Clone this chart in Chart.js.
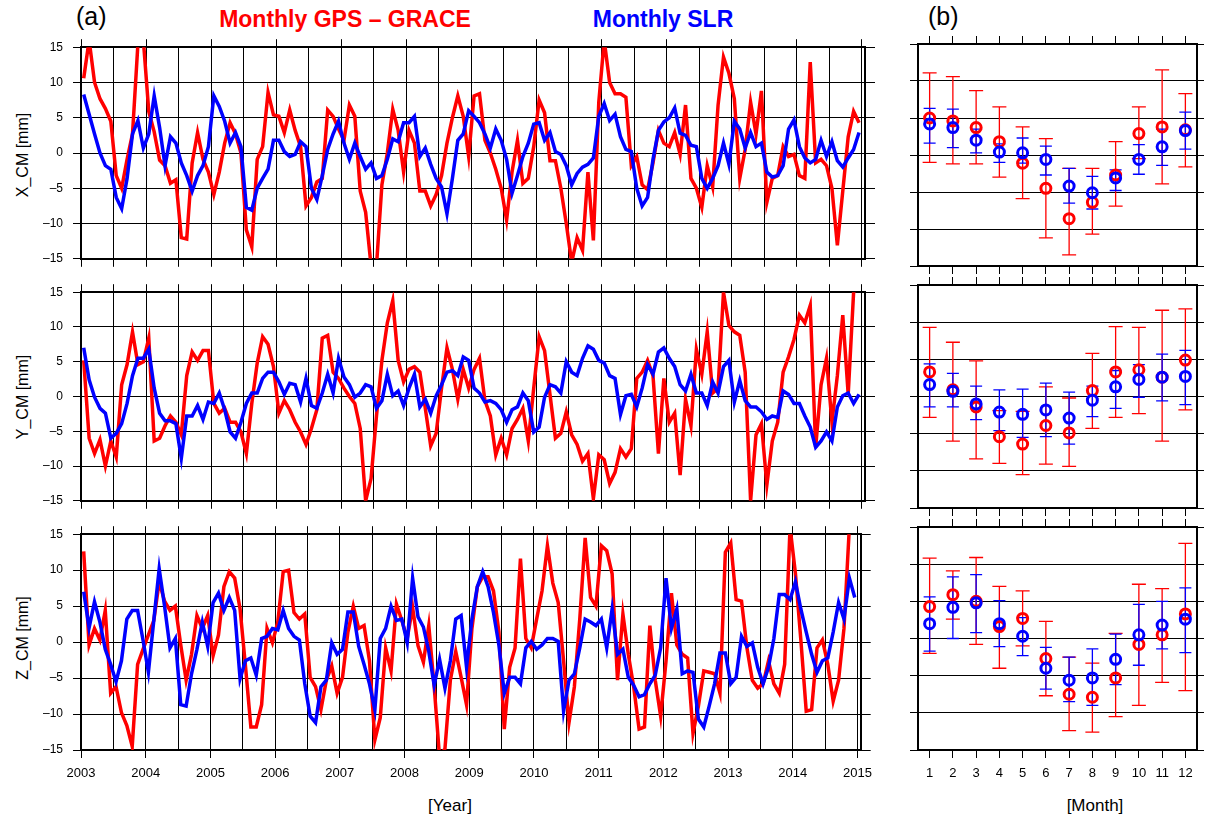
<!DOCTYPE html>
<html>
<head>
<meta charset="utf-8">
<script src="https://cdn.jsdelivr.net/npm/chart.js@4.4.1/dist/chart.umd.min.js"></script>
<style>
  body { margin: 0; background: #fff; width: 1205px; height: 825px; position: relative; overflow: hidden;
         font-family: "Liberation Sans", Arial, sans-serif; }
  canvas { position: absolute; }
  .lbl { position: absolute; white-space: nowrap; color: #000; }
  .head { font-family: "Liberation Sans Narrow", "Liberation Sans", Arial, sans-serif; font-weight: bold; font-size: 23px; }
  .ytitle { font-size: 16px; transform: translate(-50%, -50%) rotate(-90deg); }
</style>
</head>
<body>
<div class="lbl" style="left:76px; top:2px; font-size:25px;">(a)</div>
<div class="lbl head" style="left:345px; top:6px; transform:translateX(-50%); color:#ff0000;">Monthly GPS – GRACE</div>
<div class="lbl head" style="left:663px; top:6px; transform:translateX(-50%); color:#0000ff;">Monthly SLR</div>
<div class="lbl" style="left:928px; top:2px; font-size:25px;">(b)</div>

<div class="lbl ytitle" style="left:23px; top:155px;">X_CM [mm]</div>
<div class="lbl ytitle" style="left:23px; top:397px;">Y_CM [mm]</div>
<div class="lbl ytitle" style="left:23px; top:638px;">Z_CM [mm]</div>
<div class="lbl" style="left:450px; top:796px; font-size:17px; transform:translateX(-50%);">[Year]</div>
<div class="lbl" style="left:1095px; top:796px; font-size:17px; transform:translateX(-50%);">[Month]</div>

<canvas id="xcmSeries"></canvas>
<canvas id="ycmSeries"></canvas>
<canvas id="zcmSeries"></canvas>
<canvas id="xcmMonthly"></canvas>
<canvas id="ycmMonthly"></canvas>
<canvas id="zcmMonthly"></canvas>

<script>
// tick labels / categories
const years = [2003, 2004, 2005, 2006, 2007, 2008, 2009, 2010, 2011, 2012, 2013, 2014, 2015];
const monthLabels = [1, 2, 3, 4, 5, 6, 7, 8, 9, 10, 11, 12];
const startYear = 2003;

// monthly series, Jan 2003 .. Dec 2014 [mm]
const xcmGps = [10.6, 16, 10, 7.7, 6.3, 4.5, -3.2, -5, -0.9, 2.7,
  15.5, 16, 5.9, 3, -1, -1.8, -4.3, -3.8, -12, -12.2,
  -1.4, 2.9, -0.9, -2.7, -5.9, -2.7, 1.4, 4.3, 2.7, 0,
  -10.9, -13.3, -0.9, 0.9, 8.6, 5.4, 5.2, 2.9, 6.1, 3.2,
  0.9, -7.5, -6.3, -4.1, -3.6, 6.1, 5.2, 3.4, 1.8, 6.8,
  5.2, -5.4, -8.4, -16, -16, -4.5, 0, 6.2, 3.2, -2.7,
  3.2, 1.4, -5.4, -5.4, -7.5, -5.9, -3.2, 1.4, 5, 8.1,
  5.2, -0.5, 8.1, 8.4, 1.8, 0, -2.3, -5, -9.5, -2.7,
  1.8, -4.3, -3.6, 0.9, 7.5, 5.7, -1.1, -1.1, -5, -10,
  -15.5, -12, -13.8, -2.7, -12.4, 7.2, 16, 10, 8.4, 8.4,
  7.9, -1.8, -0.5, -4.5, -5.2, -1.4, 3.2, 1.4, 0.9, 2.9,
  -0.2, 6.8, -3.6, -5, -7.7, -1.8, -4.8, 6.8, 13.6, 11.3,
  7.7, -3.6, 0.5, 7.2, 2.7, 8.8, -7, -3.6, -3.2, 0.9,
  -0.5, -0.2, -3.2, -3.6, 12.9, -1.4, -0.9, -1.8, -5, -13.1,
  -5.4, 2.3, 5.9, 4.3];
const xcmSlr = [8.3, 5.5, 2.7, 0, -1.8, -2.3, -6.3, -7.9, -3.6, 2.7,
  4.6, 0.7, 2.7, 8.1, 3.6, -1.8, 2.3, 1.4, -1.4, -3.2,
  -5.4, -3.2, -1.8, 0.9, 8.1, 6.6, 4.5, 1.4, 2.9, 0.9,
  -7.7, -8.1, -5, -3.6, -2.3, 1.8, 1.8, 0.2, -0.5, -0.2,
  1.6, 0.9, -5, -6.6, -3.2, 0.5, 2.7, 4.5, 1.4, -0.9,
  1.4, -0.5, -2.3, -1.4, -3.6, -3.2, -0.9, 2, 1.6, 4.3,
  4.3, 5.2, -0.5, 0.7, -1.6, -3.6, -4.8, -8.6, -3.6, 1.8,
  2.7, 6, 5.2, 4.3, 2.7, 0.7, 3.4, 1.8, -0.9, -5.7,
  -3.2, -0.5, 1.4, 4.1, 4.3, 1.8, 2.9, 0.2, -0.2, -1.8,
  -4.5, -2.9, -2, -1.6, -0.7, 5.2, 7, 4.6, 5.5, 2.3,
  0.5, 0.2, -5, -7.5, -6.3, -0.9, 3.2, 4.4, 5, 6.4,
  2.8, 2.5, 1.1, 0.9, -3.6, -5, -3.6, -1.8, 1.4, -1.6,
  4.5, 3.4, 0.7, 2.9, 0.9, 1.4, -2.7, -3.4, -3.2, -1.8,
  3.4, 4.7, 0.9, -0.7, -1.4, -0.9, 1.8, -0.5, 1.6, -1.1,
  -2, -0.7, 0.5, 2.9];
const ycmGps = [5.2, -6, -8.2, -6.2, -10, -6.4, -8.7, 1.7, 4.6, 9.3,
  4.6, 5, 8.4, -6.4, -6, -4.2, -2.8, -3.7, -5.5, 3,
  6.4, 5.2, 6.6, 6.6, -1, -2.4, -1.7, -3.7, -3.7, -5.1,
  -8.2, -1, 4.8, 8.6, 7.5, 4.3, -2.4, -0.6, -1.9, -3.7,
  -5.1, -6.9, -4.6, -1.9, 8.4, 8.8, 3.5, 2.6, 1.2, 0,
  -1, -4.6, -15, -11.8, -2.8, 5.2, 10.6, 13.8, 5.2, 2.1,
  3.9, 4.3, 3.5, -1.7, -7.1, -5.3, 1.2, 7, 3.9, -0.4,
  3.9, 1.2, 3.9, 5.5, -0.6, -2.8, -8.4, -6, -8.4, -4.6,
  -3.3, -1.7, -6.4, 1.2, 8.6, 6.6, 0.3, -6, -5.3, -2.2,
  -5.5, -6.9, -9.3, -8.2, -14.7, -8.4, -9.1, -12.5, -10.9, -7.5,
  -8.7, -7.5, 2.6, 3.5, 5.2, 3, -8.2, 2.6, -3.7, -2.4,
  -11.3, -0.4, -4.2, 6.8, 3.2, 9.3, 0.5, 1.2, 15, 10.2,
  9.3, 8.8, 3.5, -15, -5.5, -3.9, -12.7, -6.4, -3.7, 3.5,
  5.7, 8.2, 11.7, 10.6, 13.1, -7.3, 1.7, 5.5, -3.7, 3,
  11.7, 0.3, 15, 16];
const ycmSlr = [7, 2.4, -0.1, -1.7, -2.4, -6, -5.3, -3.9, -1, 3,
  5.5, 5.5, 6.8, 1.2, -2.4, -3.5, -3.5, -3.9, -8.9, -2.8,
  -2.8, -1.3, -3.3, -0.8, -1, 0.5, -1.9, -5.1, -6, -3.7,
  -1, 0.5, 0.5, 2.6, 3.5, 3.5, 2.1, 0.3, 1.9, 1.7,
  -0.8, 2.6, -1.3, -1.7, 0.5, 3.2, 0.5, 5.5, 2.8, 1.7,
  -0.1, 0.5, 1.7, 1.4, -1.7, -0.6, 3.2, 0.1, 0.8, -1.3,
  1.2, 3.2, -1.5, -0.4, -2.4, 0.1, 1.7, 3.5, 3.7, 3,
  5.7, 5.2, 1.2, 0.5, -0.8, -0.6, -1, -1.9, -3.7, -1.9,
  -1.5, 0.5, -0.6, -5.1, -4.4, -0.1, 1.7, 1.4, 0.5, 5,
  3.5, 3, 5.5, 7.3, 6.8, 5.2, 4.8, 3, 2.6, -2.6,
  0.1, 0.3, -1.5, 1.2, 4.6, 3.2, 6.4, 7, 5.5, 4.3,
  1.7, 0.8, 3.2, 0.5, 0.5, -1.3, 2.1, 0.5, 4.3, 5.2,
  -0.8, 2.3, -0.6, -1.5, -1.5, -2.2, -3.3, -2.8, -3, 0.8,
  0.3, -1, -1, -2.8, -4.4, -7.3, -6.4, -5.1, -6.4, -1.5,
  0.1, 0.5, -1, 0.3];
const zcmGps = [12.6, -0.4, 1.9, 0.3, 4.4, -7.1, -6.2, -9.8, -11.6, -14.5,
  -3.1, -1, 1, 3, 8.4, 5.7, 4.4, 5, -0.4, -5.3,
  -1.7, 3.7, 1.9, 3.7, -1.9, 1, 7.7, 9.8, 8.9, 4.6,
  -3.3, -11.8, -11.8, -8.7, 1.9, -0.1, 2.8, 9.8, 10, 4.1,
  3.2, 3.9, -4.9, -6.2, -9.4, -5.3, -3.3, -7.1, -4.9, 1.4,
  5, 1.9, 2.3, -2.6, -13.6, -10.5, -0.8, -4, 5.3, 3,
  0.5, 4.8, -0.5, -2.8, 2.3, -6.2, -16, -14.8, -5.3, -1.3,
  -4.9, -8.7, 1.9, 7.7, 9.1, 9.1, 7.1, 1.4, -12.1, -3.5,
  -0.8, 11.6, 0.5, -0.8, 3.2, 7.1, 13.4, 8.2, 5.5, -2.6,
  -11.2, -6.2, 3.2, 14.5, 6.2, 5, 13.4, 12.7, 9.5, -5.3,
  3.9, -1.7, -6.2, -12.1, -11.8, 2.3, -5.3, -10.3, -2.6, 6.8,
  -0.4, -1.7, -2.2, -12.7, -8.9, -4, -4.2, -4.4, -7.1, 12.5,
  13.8, 5.9, 5.7, -0.8, -5.3, -6.4, -5.8, -2.6, -5.8, -7.1,
  -3.1, 16, 9.5, 0.3, -9.6, -9.4, -0.8, 0.3, -3.1, -8.2,
  -5.3, 1.9, 16, 18];
const zcmSlr = [7, 2, 5.6, 2.8, -1, -3.1, -5.5, -2.6, 3.2, 4.4,
  4.4, 0.3, -4.2, 3, 10.2, 5, -0.8, 0.5, -8.7, -8.9,
  -4.4, -1, 2.8, -0.6, 5.5, 6.8, 4.4, 6.2, 4.4, -5.1,
  -2.6, -2.2, -4.6, 0.5, 0.8, 1.9, 1.7, 4.4, 1.9, 0.8,
  0.3, -5.8, -10.3, -11.2, -6.2, -5.3, -0.1, -1.7, -1, 4.2,
  4.2, -0.6, -3.1, -5.8, -9.4, 0.5, 1.9, 5, 3, 3.2,
  -0.1, 8.9, 3.5, 2.1, -1.3, -6, -2.4, -6.4, -2.6, 3.2,
  3.7, -3.5, 3.2, 7.7, 9.8, 7.7, 4.1, -0.4, -7.1, -4.9,
  -4.9, -5.8, -0.8, 0.1, -1, -0.4, 0.5, 0.5, 0.1, -9.6,
  -5.3, -4.4, -0.8, 3.2, 2.8, 2.3, 3.2, -0.8, 4.6, -1.7,
  -1, -4.9, -6, -7.6, -7.3, -5.8, -4.6, -0.8, 8.9, 1.9,
  4.6, -4.4, -4, -4.2, -10.7, -11.8, -8.9, -5.8, -1.5, -1.5,
  -5.8, -4.9, 0.8, -0.6, -0.1, -3.5, -5.8, -3.5, 0.5, 6.6,
  6.6, 5.9, 8.4, 4.6, 1.4, -1.7, -4.2, -2.6, -2.2, 1.4,
  5.5, 3.2, 8.9, 6.2];

// monthly means with error bar ends [mm]
const xcmGpsMean = [5.0, 4.6, 3.7, 1.8, -1.1, -4.5, -8.6, -6.4, -2.7, 2.9, 3.8, 3.4];
const xcmGpsHigh = [11.1, 10.6, 8.7, 6.5, 3.8, 2.2, -1.8, -1.8, 1.8, 6.5, 11.5, 8.3];
const xcmGpsLow = [-1.0, -1.2, -1.2, -3.0, -5.9, -11.2, -13.5, -10.7, -6.9, -0.5, -3.9, -1.6];
const xcmSlrMean = [4.2, 3.7, 2.0, 0.4, 0.3, -0.6, -4.2, -5.1, -3.1, -0.6, 1.1, 3.3];
const xcmSlrHigh = [6.3, 6.2, 3.5, 1.5, 2.3, 1.2, -1.8, -2.9, -2.0, 1.4, 3.5, 5.8];
const xcmSlrLow = [1.6, 1.0, 0.3, -1.0, -1.1, -2.7, -6.5, -7.3, -4.8, -2.6, -1.4, 0.8];

const ycmGpsMean = [3.3, 0.9, -1.4, -5.4, -6.4, -3.9, -4.9, 0.8, 3.3, 3.6, 2.6, 4.9];
const ycmGpsHigh = [9.3, 7.3, 4.8, -1.9, -2.0, 1.3, -0.2, 5.8, 9.4, 9.3, 11.6, 11.8];
const ycmGpsLow = [-2.8, -6.0, -8.4, -9.0, -10.5, -9.1, -9.4, -4.3, -2.8, -2.3, -6.0, -1.8];
const ycmSlrMean = [1.6, 0.7, -1.0, -2.1, -2.4, -1.8, -2.9, -0.5, 1.3, 2.3, 2.6, 2.7];
const ycmSlrHigh = [4.4, 3.1, 1.4, 0.9, 1.0, 1.8, 0.6, 1.4, 3.5, 4.3, 5.7, 6.2];
const ycmSlrLow = [-1.4, -1.4, -3.1, -4.6, -5.5, -5.4, -6.4, -2.7, -1.6, -0.1, -0.6, -1.1];

const zcmGpsMean = [4.3, 5.9, 5.0, 1.6, 2.7, -2.7, -7.5, -7.9, -5.3, -0.8, 0.5, 3.3];
const zcmGpsHigh = [10.8, 9.1, 10.9, 7.0, 6.4, 2.3, -2.5, -3.3, 0.7, 7.3, 6.7, 12.8];
const zcmGpsLow = [-2.0, 2.6, -0.8, -4.0, -1.0, -7.7, -12.4, -12.6, -10.5, -9.0, -5.9, -7.0];
const zcmSlrMean = [2.0, 4.2, 4.8, 2.0, 0.3, -4.0, -5.6, -5.3, -2.8, 0.5, 1.8, 2.6];
const zcmSlrHigh = [5.6, 8.3, 8.6, 5.1, 2.8, -1.2, -2.5, -1.4, 0.6, 4.6, 5.0, 6.8];
const zcmSlrLow = [-1.7, 0.0, 0.8, -1.1, -2.3, -6.8, -8.5, -9.0, -6.2, -3.6, -1.4, -1.9];

const RED = "#ff0000";
const BLUE = "#0000ff";

// canvas rows: top edge, height, space above / below the plot area
const rows = [
  { top: 30, h: 246, padT: 14, padB: 10 },
  { top: 275, h: 243, padT: 10, padB: 10 },
  { top: 517, h: 273, padT: 10, padB: 40 }
];

const decYear = i => startYear + (i + 0.5) / 12;
const fmtY = v => (v < 0 ? "\u2013" + Math.abs(v) : String(v));
const frame = { display: true, color: "#000", width: 2 };
const tickFont = { family: "'Liberation Sans', Arial, sans-serif", size: 13 };

// draws vertical error bars with caps for datasets carrying errHigh / errLow
const errorBars = {
  id: "errorBars",
  beforeDatasetsDraw(chart) {
    const { ctx, scales } = chart;
    ctx.save();
    chart.data.datasets.slice().reverse().forEach(ds => {
      if (!ds.errHigh) return;
      ctx.strokeStyle = ds.borderColor;
      ctx.lineWidth = 1.3;
      ds.data.forEach((p, i) => {
        const px = scales.x.getPixelForValue(p.x);
        const top = scales.y.getPixelForValue(ds.errHigh[i]);
        const bot = scales.y.getPixelForValue(ds.errLow[i]);
        const w = ds.capHalf;
        ctx.beginPath();
        ctx.moveTo(px, top); ctx.lineTo(px, bot);
        ctx.moveTo(px - w, top); ctx.lineTo(px + w, top);
        ctx.moveTo(px - w, bot); ctx.lineTo(px + w, bot);
        ctx.stroke();
      });
    });
    ctx.restore();
  }
};

function place(canvas, left, width, row) {
  canvas.width = width;
  canvas.height = row.h;
  canvas.style.left = left + "px";
  canvas.style.top = row.top + "px";
}

function yAxes(padL, padR, labels, rightTick) {
  return {
    y: {
      type: "linear", position: "left", min: -15, max: 15,
      afterFit: s => { s.width = padL; },
      ticks: { stepSize: 5, display: labels, callback: fmtY, color: "#000", padding: 10,
               font: { family: tickFont.family, size: 12 } },
      grid: { color: "#000", lineWidth: 1, tickLength: 8 },
      border: frame
    },
    yRight: {
      type: "linear", position: "right", axis: "y", min: -15, max: 15,
      afterFit: s => { s.width = padR; },
      ticks: { stepSize: 5, display: false },
      grid: { drawOnChartArea: false, color: "#000", tickLength: rightTick },
      border: frame
    }
  };
}

function seriesChart(id, gps, slr, rowIdx) {
  const row = rows[rowIdx];
  const canvas = document.getElementById(id);
  place(canvas, 0, 880, row);
  const last = rowIdx === 2;
  const halfYears = [];
  for (let k = 0; k <= 24; k++) halfYears.push(startYear + k * 0.5);

  new Chart(canvas.getContext("2d"), {
    type: "line",
    data: {
      datasets: [
        { label: "Monthly SLR", data: slr.map((v, i) => ({ x: decYear(i), y: v })),
          borderColor: BLUE, borderWidth: 3.5, pointRadius: 0, tension: 0, clip: 0,
          xAxisID: "x", yAxisID: "y" },
        { label: "Monthly GPS - GRACE", data: gps.map((v, i) => ({ x: decYear(i), y: v })),
          borderColor: RED, borderWidth: 3.5, pointRadius: 0, tension: 0, clip: 0,
          xAxisID: "x", yAxisID: "y" }
      ]
    },
    options: {
      responsive: false, animation: false,
      layout: { padding: 0 },
      plugins: { legend: { display: false }, tooltip: { enabled: false } },
      scales: {
        x: {
          type: "linear", position: "bottom", min: 2003, max: 2015.05,
          afterBuildTicks: s => { s.ticks = halfYears.map(v => ({ value: v })); },
          afterFit: s => { s.height = row.padB; },
          ticks: { display: last, autoSkip: false, maxRotation: 0, color: "#000", padding: 8, font: tickFont,
                   callback: v => (years.includes(v) ? String(v) : "") },
          grid: { color: "#000", lineWidth: 1, tickLength: 8,
                  tickColor: c => (!last || (c.tick && years.includes(c.tick.value)) ? "#000" : "rgba(0,0,0,0)") },
          border: frame
        },
        xTop: {
          type: "linear", position: "top", axis: "x", min: 2003, max: 2015.05,
          afterBuildTicks: s => { s.ticks = (rowIdx === 0 ? years : halfYears).map(v => ({ value: v })); },
          afterFit: s => { s.height = row.padT; },
          ticks: { display: false },
          grid: { drawOnChartArea: false, color: "#000", tickLength: 8 },
          border: frame
        },
        ...yAxes(81, 15, true, 10)
      }
    }
  });
}

function monthlyChart(id, gps, slr, rowIdx) {
  const row = rows[rowIdx];
  const canvas = document.getElementById(id);
  place(canvas, 905, 300, row);
  const last = rowIdx === 2;
  const monthTicks = s => { s.ticks = monthLabels.map(v => ({ value: v })); };

  new Chart(canvas.getContext("2d"), {
    type: "scatter",
    data: {
      datasets: [
        { label: "Monthly SLR", data: monthLabels.map((m, i) => ({ x: m, y: slr.mean[i] })),
          errHigh: slr.high, errLow: slr.low, capHalf: 6,
          borderColor: BLUE, pointBorderColor: BLUE, pointBackgroundColor: "rgba(0,0,0,0)",
          pointRadius: 5, pointBorderWidth: 3, xAxisID: "x", yAxisID: "y" },
        { label: "Monthly GPS - GRACE", data: monthLabels.map((m, i) => ({ x: m, y: gps.mean[i] })),
          errHigh: gps.high, errLow: gps.low, capHalf: 7,
          borderColor: RED, pointBorderColor: RED, pointBackgroundColor: "rgba(0,0,0,0)",
          pointRadius: 5, pointBorderWidth: 3, xAxisID: "x", yAxisID: "y" }
      ]
    },
    options: {
      responsive: false, animation: false,
      layout: { padding: 0 },
      plugins: { legend: { display: false }, tooltip: { enabled: false } },
      scales: {
        x: {
          type: "linear", position: "bottom", min: 0.5, max: 12.5,
          afterBuildTicks: monthTicks,
          afterFit: s => { s.height = row.padB; },
          ticks: { display: last, autoSkip: false, maxRotation: 0, color: "#000", padding: 8, font: tickFont },
          grid: { drawOnChartArea: false, color: "#000", tickLength: 8 },
          border: frame
        },
        xTop: {
          type: "linear", position: "top", axis: "x", min: 0.5, max: 12.5,
          afterBuildTicks: monthTicks,
          afterFit: s => { s.height = row.padT; },
          ticks: { display: false },
          grid: { drawOnChartArea: false, color: "#000", tickLength: 8 },
          border: frame
        },
        ...yAxes(13, 7, false, 7)
      }
    },
    plugins: [errorBars]
  });
}

document.addEventListener("DOMContentLoaded", () => {
  seriesChart("xcmSeries", xcmGps, xcmSlr, 0);
  seriesChart("ycmSeries", ycmGps, ycmSlr, 1);
  seriesChart("zcmSeries", zcmGps, zcmSlr, 2);

  monthlyChart("xcmMonthly",
    { mean: xcmGpsMean, high: xcmGpsHigh, low: xcmGpsLow },
    { mean: xcmSlrMean, high: xcmSlrHigh, low: xcmSlrLow }, 0);
  monthlyChart("ycmMonthly",
    { mean: ycmGpsMean, high: ycmGpsHigh, low: ycmGpsLow },
    { mean: ycmSlrMean, high: ycmSlrHigh, low: ycmSlrLow }, 1);
  monthlyChart("zcmMonthly",
    { mean: zcmGpsMean, high: zcmGpsHigh, low: zcmGpsLow },
    { mean: zcmSlrMean, high: zcmSlrHigh, low: zcmSlrLow }, 2);
});
</script>
</body>
</html>
